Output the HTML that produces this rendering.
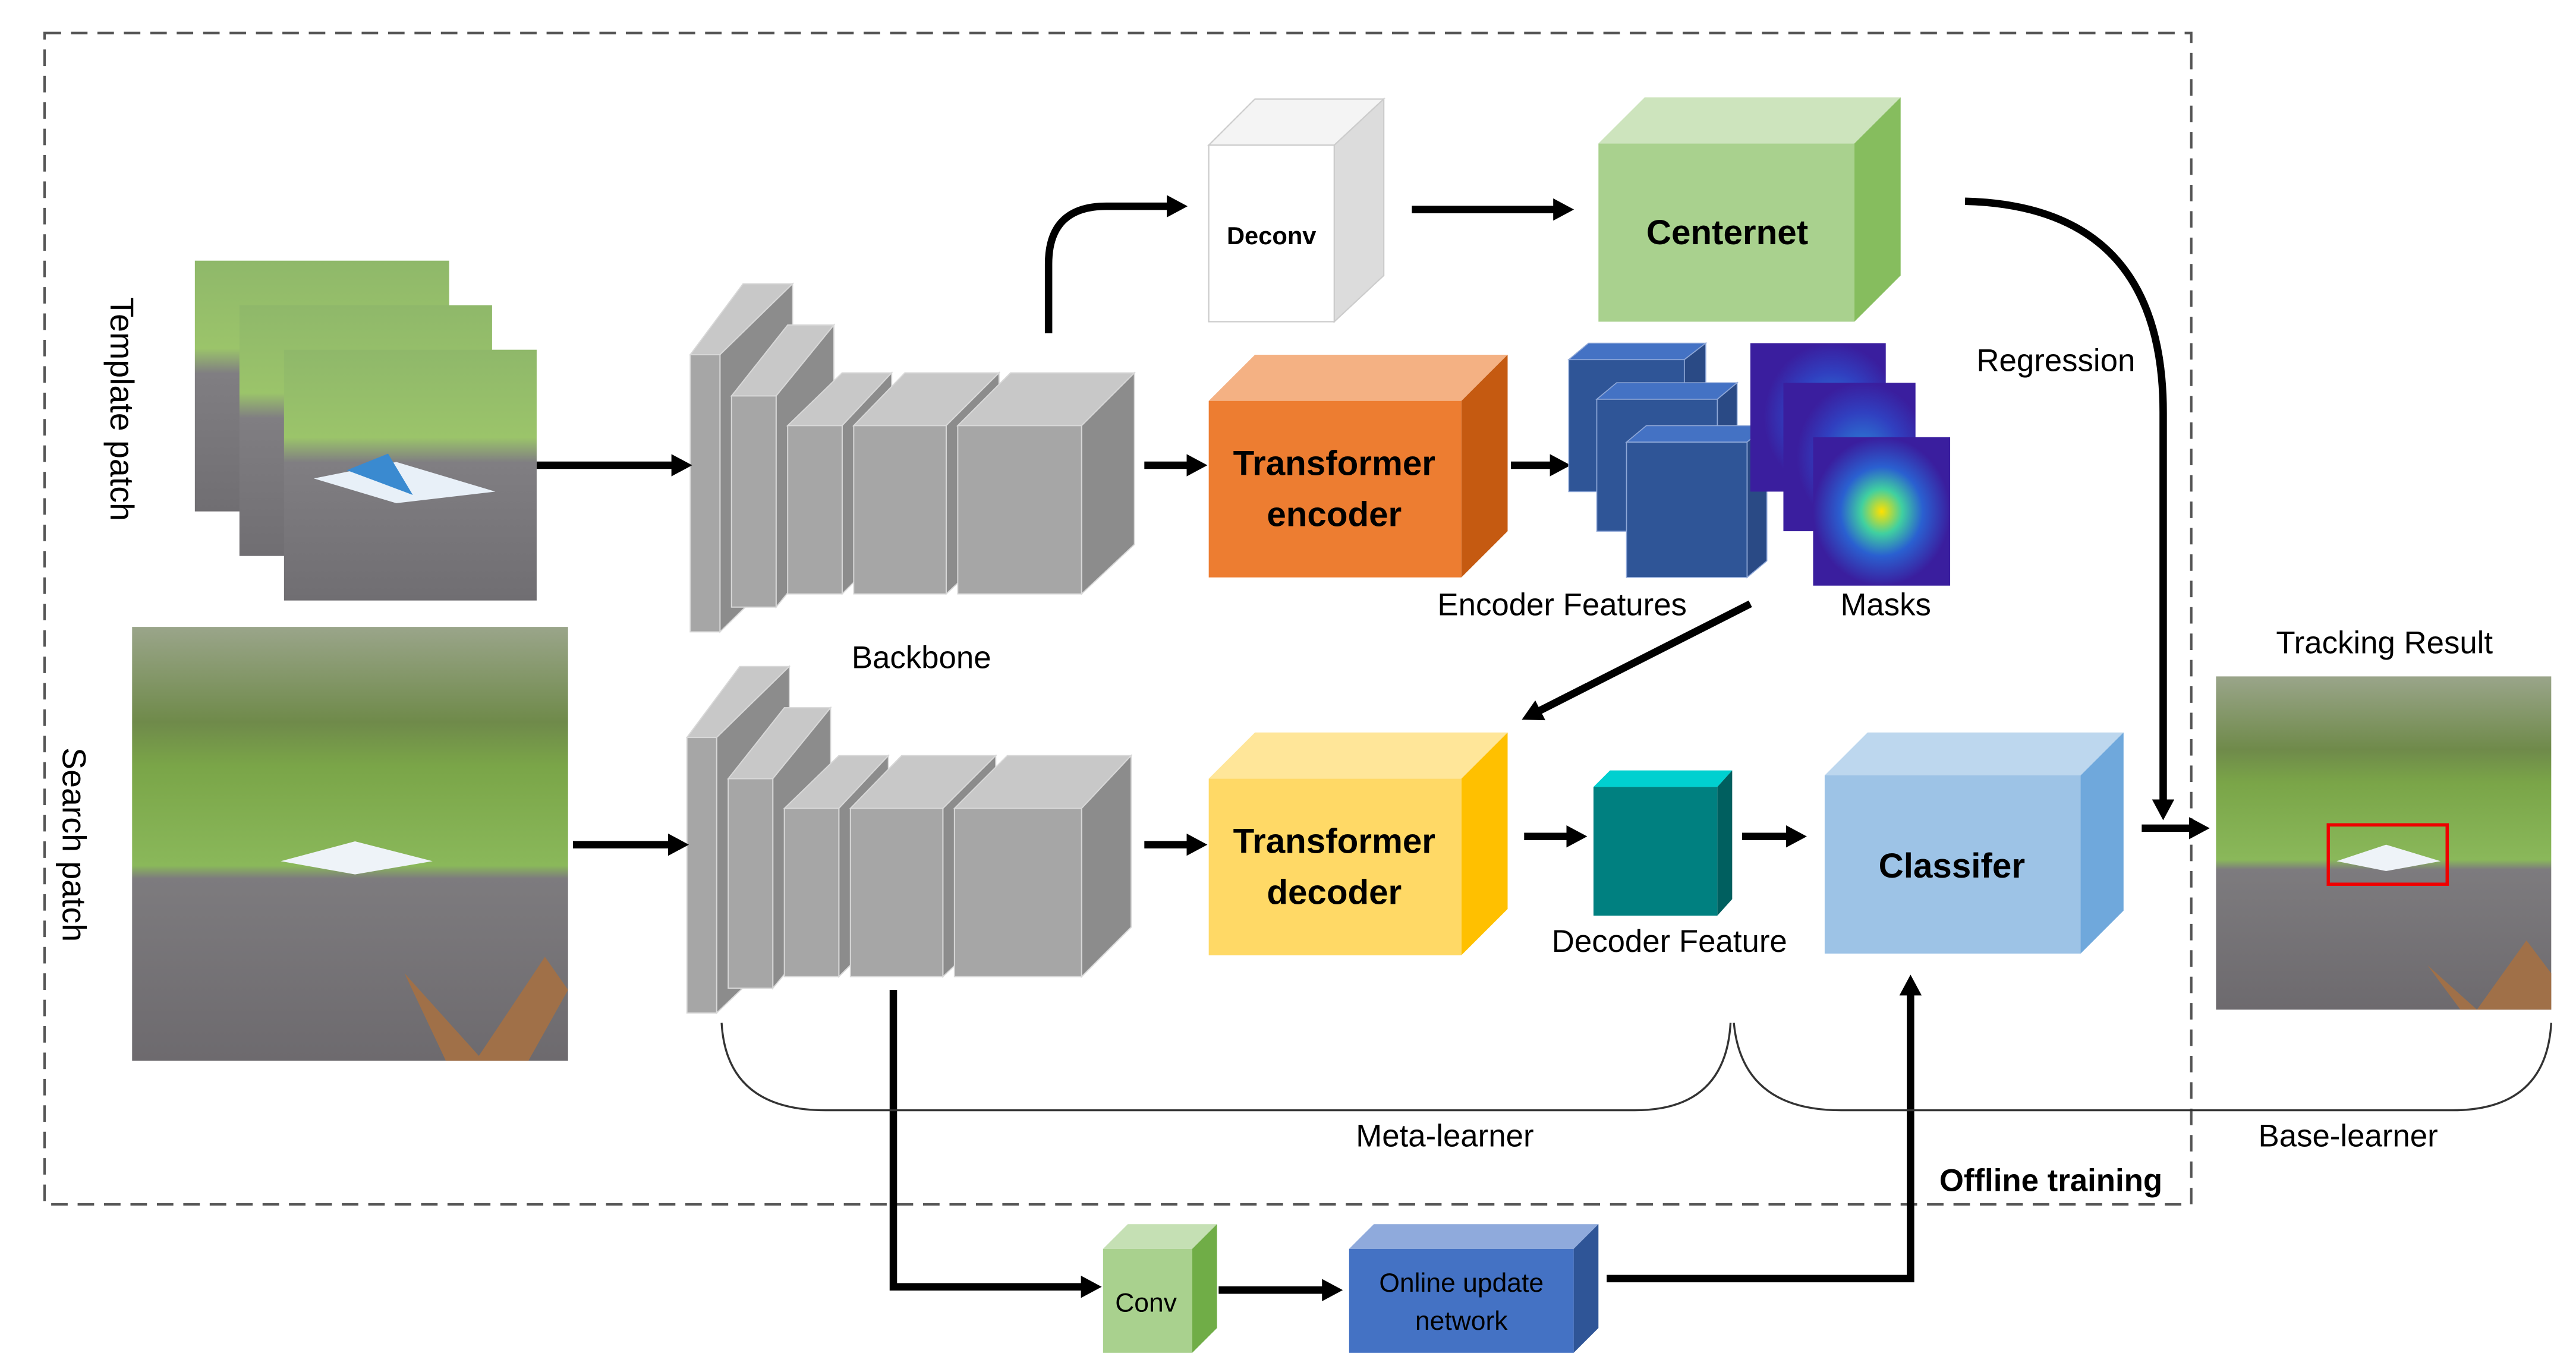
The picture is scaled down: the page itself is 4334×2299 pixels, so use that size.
<!DOCTYPE html>
<html><head><meta charset="utf-8"><style>html,body{margin:0;padding:0;background:#fff}svg{display:block}text{font-family:"Liberation Sans","DejaVu Sans",sans-serif}</style></head>
<body>
<svg width="4334" height="2299" viewBox="0 0 1560 828" preserveAspectRatio="none" xmlns="http://www.w3.org/2000/svg">
<defs>
<marker id="ah" markerWidth="4" markerHeight="4" refX="1.2" refY="1.5" orient="auto" markerUnits="strokeWidth"><path d="M0,0 L2.8,1.5 L0,3 z" fill="#000"/></marker>
<linearGradient id="ph" x1="0" y1="0" x2="0" y2="1">
<stop offset="0" stop-color="#9aa58a"/><stop offset="0.22" stop-color="#6f8a4a"/><stop offset="0.32" stop-color="#7aa548"/><stop offset="0.55" stop-color="#8ab85a"/><stop offset="0.58" stop-color="#7d7b7e"/><stop offset="1" stop-color="#6d6a6e"/></linearGradient>
<linearGradient id="tp" x1="0" y1="0" x2="0" y2="1">
<stop offset="0" stop-color="#8fb86a"/><stop offset="0.35" stop-color="#9bc46a"/><stop offset="0.45" stop-color="#807e82"/><stop offset="1" stop-color="#706e72"/></linearGradient>
<radialGradient id="mk" cx="0.5" cy="0.5" r="0.5"><stop offset="0" stop-color="#ffe000"/><stop offset="0.3" stop-color="#40d0a0"/><stop offset="0.6" stop-color="#2a60d0"/><stop offset="1" stop-color="#3a1e9e"/></radialGradient>
<radialGradient id="mk2" cx="0.6" cy="0.5" r="0.5"><stop offset="0" stop-color="#2a8ad8"/><stop offset="0.6" stop-color="#3040c0"/><stop offset="1" stop-color="#3a1e9e"/></radialGradient>
</defs>
<rect width="1560" height="828" fill="#fff"/>
<rect x="27" y="20" width="1300" height="710" fill="none" stroke="#555" stroke-width="1.5" stroke-dasharray="10,6"/>

<rect x="118" y="158" width="154" height="152" fill="url(#tp)"/>
<rect x="145" y="185" width="153" height="152" fill="url(#tp)"/>
<rect x="172" y="212" width="153" height="152" fill="url(#tp)"/>
<path d="M190,290 L240,280 L300,298 L240,305 Z" fill="#e8f0f8"/><path d="M210,285 L235,275 L250,300 Z" fill="#3a8ad0"/>
<text transform="translate(67,248) rotate(90)" font-size="20" text-anchor="middle">Template  patch</text>
<rect x="80" y="380" width="264" height="263" fill="url(#ph)"/>
<path d="M170,522 L215,510 L262,522 L215,530 Z" fill="#eef3f8"/>
<path d="M245,590 L290,640 L330,580 L344,600 L320,643 L270,643 Z" fill="#a07048"/>
<text transform="translate(38,512) rotate(90)" font-size="20" text-anchor="middle">Search  patch</text>

<g stroke="#d8d8d8" stroke-width="0.7">
<polygon points="418,215 450,172 480,172 436,215" fill="#c8c8c8"/><polygon points="436,215 480,172 480,340 436,383" fill="#8c8c8c"/><rect x="418" y="215" width="18" height="168" fill="#a6a6a6"/>
<polygon points="443,240 477,197 505,197 470,240" fill="#c8c8c8"/><polygon points="470,240 505,197 505,325 470,368" fill="#8c8c8c"/><rect x="443" y="240" width="27" height="128" fill="#a6a6a6"/>
<polygon points="477,258 510,226 540,226 510,258" fill="#c8c8c8"/><polygon points="510,258 540,226 540,330 510,360" fill="#8c8c8c"/><rect x="477" y="258" width="33" height="102" fill="#a6a6a6"/>
<polygon points="517,258 548,226 605,226 573,258" fill="#c8c8c8"/><polygon points="573,258 605,226 605,330 573,360" fill="#8c8c8c"/><rect x="517" y="258" width="56" height="102" fill="#a6a6a6"/>
<polygon points="580,258 612,226 687,226 655,258" fill="#c8c8c8"/><polygon points="655,258 687,226 687,330 655,360" fill="#8c8c8c"/><rect x="580" y="258" width="75" height="102" fill="#a6a6a6"/>
</g>
<text x="558" y="405" font-size="19" text-anchor="middle">Backbone</text>
<g stroke="#d8d8d8" stroke-width="0.7">
<polygon points="416,447 448,404 478,404 434,447" fill="#c8c8c8"/><polygon points="434,447 478,404 478,572 434,614" fill="#8c8c8c"/><rect x="416" y="447" width="18" height="167" fill="#a6a6a6"/>
<polygon points="441,472 475,429 503,429 468,472" fill="#c8c8c8"/><polygon points="468,472 503,429 503,557 468,599" fill="#8c8c8c"/><rect x="441" y="472" width="27" height="127" fill="#a6a6a6"/>
<polygon points="475,490 508,458 538,458 508,490" fill="#c8c8c8"/><polygon points="508,490 538,458 538,562 508,592" fill="#8c8c8c"/><rect x="475" y="490" width="33" height="102" fill="#a6a6a6"/>
<polygon points="515,490 546,458 603,458 571,490" fill="#c8c8c8"/><polygon points="571,490 603,458 603,562 571,592" fill="#8c8c8c"/><rect x="515" y="490" width="56" height="102" fill="#a6a6a6"/>
<polygon points="578,490 610,458 685,458 655,490" fill="#c8c8c8"/><polygon points="655,490 685,458 685,562 655,592" fill="#8c8c8c"/><rect x="578" y="490" width="77" height="102" fill="#a6a6a6"/>
</g>

<g stroke="#000" stroke-width="4.5" fill="none" marker-end="url(#ah)">
<line x1="325" y1="282" x2="412" y2="282"/>
<line x1="347" y1="512" x2="410" y2="512"/>
<path d="M635,202 L635,160 Q635,125 670,125 L712,125"/>
<line x1="855" y1="127" x2="946" y2="127"/>
<path d="M1190,122 Q1310,125 1310,250 L1310,490"/>
<line x1="693" y1="282" x2="724" y2="282"/>
<line x1="915" y1="282" x2="944" y2="282"/>
<line x1="1060" y1="366" x2="928" y2="433"/>
<line x1="693" y1="512" x2="724" y2="512"/>
<line x1="923" y1="507" x2="954" y2="507"/>
<line x1="1055" y1="507" x2="1087" y2="507"/>
<line x1="1297" y1="502" x2="1331" y2="502"/>
<path d="M541,600 L541,780 L660,780"/>
<line x1="738" y1="782" x2="806" y2="782"/>
<path d="M973,775 L1157,775 L1157,598"/>
</g>

<g stroke="#ccc" stroke-width="0.8">
<polygon points="732,88 760,60 838,60 808,88" fill="#f4f4f4"/><polygon points="808,88 838,60 838,167 808,195" fill="#dcdcdc"/><rect x="732" y="88" width="76" height="107" fill="#fff"/></g>
<text x="770" y="148" font-size="15" font-weight="bold" text-anchor="middle">Deconv</text>
<polygon points="968,87 996,59 1151,59 1123,87" fill="#cde4bd"/><polygon points="1123,87 1151,59 1151,167 1123,195" fill="#86bd5e"/><rect x="968" y="87" width="155" height="108" fill="#a9d18e"/>
<text x="1046" y="148" font-size="21" font-weight="bold" text-anchor="middle">Centernet</text>
<text x="1245" y="225" font-size="19" text-anchor="middle">Regression</text>
<polygon points="732,243 760,215 913,215 885,243" fill="#f4b183"/><polygon points="885,243 913,215 913,322 885,350" fill="#c55a11"/><rect x="732" y="243" width="153" height="107" fill="#ed7d31"/>
<text x="808" y="288" font-size="21" font-weight="bold" text-anchor="middle">Transformer</text><text x="808" y="319" font-size="21" font-weight="bold" text-anchor="middle">encoder</text>
<g stroke="#8fa8d8" stroke-width="0.6">
<polygon points="950,218 962,208 1033,208 1020,218" fill="#4472c4"/><polygon points="1020,218 1033,208 1033,288 1020,298" fill="#2a4a85"/><rect x="950" y="218" width="70" height="80" fill="#2f5597"/>
<polygon points="967,242 979,232 1052,232 1040,242" fill="#4472c4"/><polygon points="1040,242 1052,232 1052,312 1040,322" fill="#2a4a85"/><rect x="967" y="242" width="73" height="80" fill="#2f5597"/>
<polygon points="985,268 997,258 1070,258 1058,268" fill="#4472c4"/><polygon points="1058,268 1070,258 1070,340 1058,350" fill="#2a4a85"/><rect x="985" y="268" width="73" height="82" fill="#2f5597"/>
</g>
<rect x="1060" y="208" width="82" height="90" fill="url(#mk2)"/>
<rect x="1080" y="232" width="80" height="90" fill="url(#mk2)"/>
<rect x="1098" y="265" width="83" height="90" fill="url(#mk)"/>
<text x="946" y="373" font-size="19" text-anchor="middle">Encoder Features</text>
<text x="1142" y="373" font-size="19" text-anchor="middle">Masks</text>
<polygon points="732,472 760,444 913,444 885,472" fill="#ffe699"/><polygon points="885,472 913,444 913,551 885,579" fill="#ffc000"/><rect x="732" y="472" width="153" height="107" fill="#ffd966"/>
<text x="808" y="517" font-size="21" font-weight="bold" text-anchor="middle">Transformer</text><text x="808" y="548" font-size="21" font-weight="bold" text-anchor="middle">decoder</text>
<polygon points="965,477 975,467 1049,467 1040,477" fill="#00d0d0"/><polygon points="1040,477 1049,467 1049,545 1040,555" fill="#005f5f"/><rect x="965" y="477" width="75" height="78" fill="#008080"/>
<text x="1011" y="577" font-size="19" text-anchor="middle">Decoder Feature</text>
<polygon points="1105,470 1131,444 1286,444 1260,470" fill="#bdd7ee"/><polygon points="1260,470 1286,444 1286,552 1260,578" fill="#6fa8dc"/><rect x="1105" y="470" width="155" height="108" fill="#9dc3e6"/>
<text x="1182" y="532" font-size="21" font-weight="bold" text-anchor="middle">Classifer</text>
<rect x="1342" y="410" width="203" height="202" fill="url(#ph)"/>
<path d="M1415,522 L1445,512 L1478,522 L1445,528 Z" fill="#eef3f8"/>
<path d="M1470,585 L1500,612 L1530,570 L1545,590 L1545,612 L1490,612 Z" fill="#a07048"/>
<rect x="1410" y="500" width="72" height="36" fill="none" stroke="#e00" stroke-width="2"/>
<text x="1444" y="396" font-size="19" text-anchor="middle">Tracking Result</text>
<path d="M437,620 Q440,673 500,673 L990,673 Q1045,673 1048,620" fill="none" stroke="#333" stroke-width="1.2"/>
<path d="M1050,620 Q1055,673 1115,673 L1485,673 Q1542,673 1545,620" fill="none" stroke="#333" stroke-width="1.2"/>
<text x="875" y="695" font-size="19" text-anchor="middle">Meta-learner</text>
<text x="1422" y="695" font-size="19" text-anchor="middle">Base-learner</text>
<text x="1242" y="722" font-size="19" font-weight="bold" text-anchor="middle">Offline training</text>
<polygon points="668,757 683,742 737,742 722,757" fill="#c5e0b4"/><polygon points="722,757 737,742 737,805 722,820" fill="#70ad47"/><rect x="668" y="757" width="54" height="63" fill="#a9d18e"/>
<text x="694" y="795" font-size="16" text-anchor="middle">Conv</text>
<polygon points="817,757 832,742 968,742 953,757" fill="#8faadc"/><polygon points="953,757 968,742 968,805 953,820" fill="#2f5597"/><rect x="817" y="757" width="136" height="63" fill="#4472c4"/>
<text x="885" y="783" font-size="16" text-anchor="middle">Online update</text><text x="885" y="806" font-size="16" text-anchor="middle">network</text>
</svg>
</body></html>
